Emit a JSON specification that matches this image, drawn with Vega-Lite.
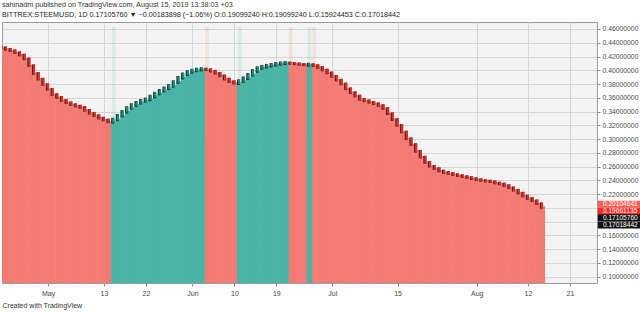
{
"$schema":"https://vega.github.io/schema/vega-lite/v6.json",
"width":595,"height":261,
"autosize":{"type":"none"},
"padding":{"left":2,"top":22,"right":43,"bottom":29},
"background":"#ffffff",
"config":{"view":{"fill":"#f3f3f3","stroke":"#9a9a9a","strokeWidth":1},"font":"Liberation Sans"},
"title":{"text":"sahinadm published on TradingView.com, August 15, 2019 13:38:03 +03","subtitle":"BITTREX:STEEMUSD, 1D  0.17105760 ▼ −0.00183898 (−1.06%)  O:0.19099240  H:0.19099240  L:0.15924453  C:0.17018442","anchor":"start","frame":"group","fontSize":7.2,"subtitleFontSize":7.2,"fontWeight":"normal","color":"#333333","subtitleColor":"#222222","offset":4,"subtitlePadding":2.5,"font":"Liberation Sans","subtitleFont":"Liberation Sans"},
"datasets":{
"p":[
{"d":"2019/04/21","o":0.4345,"c":0.4329,"s":"d"},
{"d":"2019/04/22","o":0.4329,"c":0.4308,"s":"d"},
{"d":"2019/04/23","o":0.4308,"c":0.4287,"s":"d"},
{"d":"2019/04/24","o":0.4287,"c":0.4259,"s":"d"},
{"d":"2019/04/25","o":0.4259,"c":0.4224,"s":"d"},
{"d":"2019/04/26","o":0.4224,"c":0.4168,"s":"d"},
{"d":"2019/04/27","o":0.4168,"c":0.4070,"s":"d"},
{"d":"2019/04/28","o":0.4070,"c":0.3958,"s":"d"},
{"d":"2019/04/29","o":0.3958,"c":0.3874,"s":"d"},
{"d":"2019/04/30","o":0.3874,"c":0.3797,"s":"d"},
{"d":"2019/05/01","o":0.3797,"c":0.3727,"s":"d"},
{"d":"2019/05/02","o":0.3727,"c":0.3650,"s":"d"},
{"d":"2019/05/03","o":0.3650,"c":0.3608,"s":"d"},
{"d":"2019/05/04","o":0.3608,"c":0.3566,"s":"d"},
{"d":"2019/05/05","o":0.3566,"c":0.3531,"s":"d"},
{"d":"2019/05/06","o":0.3531,"c":0.3503,"s":"d"},
{"d":"2019/05/07","o":0.3503,"c":0.3483,"s":"d"},
{"d":"2019/05/08","o":0.3483,"c":0.3462,"s":"d"},
{"d":"2019/05/09","o":0.3462,"c":0.3420,"s":"d"},
{"d":"2019/05/10","o":0.3420,"c":0.3378,"s":"d"},
{"d":"2019/05/11","o":0.3378,"c":0.3343,"s":"d"},
{"d":"2019/05/12","o":0.3343,"c":0.3308,"s":"d"},
{"d":"2019/05/13","o":0.3308,"c":0.3280,"s":"d"},
{"d":"2019/05/14","o":0.3280,"c":0.3252,"s":"d"},
{"d":"2019/05/15","o":0.3252,"c":0.3287,"s":"u","g":"b"},
{"d":"2019/05/16","o":0.3287,"c":0.3343,"s":"u"},
{"d":"2019/05/17","o":0.3343,"c":0.3399,"s":"u"},
{"d":"2019/05/18","o":0.3399,"c":0.3455,"s":"u"},
{"d":"2019/05/19","o":0.3455,"c":0.3497,"s":"u"},
{"d":"2019/05/20","o":0.3497,"c":0.3531,"s":"u"},
{"d":"2019/05/21","o":0.3531,"c":0.3559,"s":"u"},
{"d":"2019/05/22","o":0.3559,"c":0.3580,"s":"u"},
{"d":"2019/05/23","o":0.3580,"c":0.3622,"s":"u"},
{"d":"2019/05/24","o":0.3622,"c":0.3664,"s":"u"},
{"d":"2019/05/25","o":0.3664,"c":0.3706,"s":"u"},
{"d":"2019/05/26","o":0.3706,"c":0.3741,"s":"u"},
{"d":"2019/05/27","o":0.3741,"c":0.3776,"s":"u"},
{"d":"2019/05/28","o":0.3776,"c":0.3832,"s":"u"},
{"d":"2019/05/29","o":0.3832,"c":0.3895,"s":"u"},
{"d":"2019/05/30","o":0.3895,"c":0.3944,"s":"u"},
{"d":"2019/05/31","o":0.3944,"c":0.3979,"s":"u"},
{"d":"2019/06/01","o":0.3979,"c":0.4000,"s":"u"},
{"d":"2019/06/02","o":0.4000,"c":0.4014,"s":"u"},
{"d":"2019/06/03","o":0.4014,"c":0.4021,"s":"u"},
{"d":"2019/06/04","o":0.4021,"c":0.4010,"s":"d","g":"s"},
{"d":"2019/06/05","o":0.4010,"c":0.3990,"s":"d"},
{"d":"2019/06/06","o":0.3990,"c":0.3960,"s":"d"},
{"d":"2019/06/07","o":0.3960,"c":0.3922,"s":"d"},
{"d":"2019/06/08","o":0.3922,"c":0.3875,"s":"d"},
{"d":"2019/06/09","o":0.3875,"c":0.3838,"s":"d"},
{"d":"2019/06/10","o":0.3838,"c":0.3815,"s":"d"},
{"d":"2019/06/11","o":0.3815,"c":0.3846,"s":"u","g":"b"},
{"d":"2019/06/12","o":0.3846,"c":0.3888,"s":"u"},
{"d":"2019/06/13","o":0.3888,"c":0.3937,"s":"u"},
{"d":"2019/06/14","o":0.3937,"c":0.3993,"s":"u"},
{"d":"2019/06/15","o":0.3993,"c":0.4035,"s":"u"},
{"d":"2019/06/16","o":0.4035,"c":0.4056,"s":"u"},
{"d":"2019/06/17","o":0.4056,"c":0.4070,"s":"u"},
{"d":"2019/06/18","o":0.4070,"c":0.4084,"s":"u"},
{"d":"2019/06/19","o":0.4084,"c":0.4098,"s":"u"},
{"d":"2019/06/20","o":0.4098,"c":0.4105,"s":"u"},
{"d":"2019/06/21","o":0.4105,"c":0.4110,"s":"u"},
{"d":"2019/06/22","o":0.4110,"c":0.4103,"s":"d","g":"s"},
{"d":"2019/06/23","o":0.4103,"c":0.4096,"s":"d"},
{"d":"2019/06/24","o":0.4096,"c":0.4089,"s":"d"},
{"d":"2019/06/25","o":0.4089,"c":0.4082,"s":"d"},
{"d":"2019/06/26","o":0.4082,"c":0.4086,"s":"u","g":"b"},
{"d":"2019/06/27","o":0.4086,"c":0.4072,"s":"d","g":"s"},
{"d":"2019/06/28","o":0.4072,"c":0.4045,"s":"d"},
{"d":"2019/06/29","o":0.4045,"c":0.4007,"s":"d"},
{"d":"2019/06/30","o":0.4007,"c":0.3965,"s":"d"},
{"d":"2019/07/01","o":0.3965,"c":0.3916,"s":"d"},
{"d":"2019/07/02","o":0.3916,"c":0.3860,"s":"d"},
{"d":"2019/07/03","o":0.3860,"c":0.3804,"s":"d"},
{"d":"2019/07/04","o":0.3804,"c":0.3734,"s":"d"},
{"d":"2019/07/05","o":0.3734,"c":0.3678,"s":"d"},
{"d":"2019/07/06","o":0.3678,"c":0.3629,"s":"d"},
{"d":"2019/07/07","o":0.3629,"c":0.3580,"s":"d"},
{"d":"2019/07/08","o":0.3580,"c":0.3559,"s":"d"},
{"d":"2019/07/09","o":0.3559,"c":0.3538,"s":"d"},
{"d":"2019/07/10","o":0.3538,"c":0.3517,"s":"d"},
{"d":"2019/07/11","o":0.3517,"c":0.3490,"s":"d"},
{"d":"2019/07/12","o":0.3490,"c":0.3448,"s":"d"},
{"d":"2019/07/13","o":0.3448,"c":0.3371,"s":"d"},
{"d":"2019/07/14","o":0.3371,"c":0.3287,"s":"d"},
{"d":"2019/07/15","o":0.3287,"c":0.3203,"s":"d"},
{"d":"2019/07/16","o":0.3203,"c":0.3105,"s":"d"},
{"d":"2019/07/17","o":0.3105,"c":0.3007,"s":"d"},
{"d":"2019/07/18","o":0.3007,"c":0.2923,"s":"d"},
{"d":"2019/07/19","o":0.2923,"c":0.2825,"s":"d"},
{"d":"2019/07/20","o":0.2825,"c":0.2741,"s":"d"},
{"d":"2019/07/21","o":0.2741,"c":0.2664,"s":"d"},
{"d":"2019/07/22","o":0.2664,"c":0.2608,"s":"d"},
{"d":"2019/07/23","o":0.2608,"c":0.2573,"s":"d"},
{"d":"2019/07/24","o":0.2573,"c":0.2538,"s":"d"},
{"d":"2019/07/25","o":0.2538,"c":0.2517,"s":"d"},
{"d":"2019/07/26","o":0.2517,"c":0.2503,"s":"d"},
{"d":"2019/07/27","o":0.2503,"c":0.2485,"s":"d"},
{"d":"2019/07/28","o":0.2485,"c":0.2471,"s":"d"},
{"d":"2019/07/29","o":0.2471,"c":0.2457,"s":"d"},
{"d":"2019/07/30","o":0.2457,"c":0.2443,"s":"d"},
{"d":"2019/07/31","o":0.2443,"c":0.2427,"s":"d"},
{"d":"2019/08/01","o":0.2427,"c":0.2413,"s":"d"},
{"d":"2019/08/02","o":0.2413,"c":0.2401,"s":"d"},
{"d":"2019/08/03","o":0.2401,"c":0.2392,"s":"d"},
{"d":"2019/08/04","o":0.2392,"c":0.2382,"s":"d"},
{"d":"2019/08/05","o":0.2382,"c":0.2364,"s":"d"},
{"d":"2019/08/06","o":0.2364,"c":0.2350,"s":"d"},
{"d":"2019/08/07","o":0.2350,"c":0.2326,"s":"d"},
{"d":"2019/08/08","o":0.2326,"c":0.2294,"s":"d"},
{"d":"2019/08/09","o":0.2294,"c":0.2259,"s":"d"},
{"d":"2019/08/10","o":0.2259,"c":0.2217,"s":"d"},
{"d":"2019/08/11","o":0.2217,"c":0.2175,"s":"d"},
{"d":"2019/08/12","o":0.2175,"c":0.2140,"s":"d"},
{"d":"2019/08/13","o":0.2140,"c":0.2105,"s":"d"},
{"d":"2019/08/14","o":0.2105,"c":0.2062,"s":"d"},
{"d":"2019/08/15","o":0.2062,"c":0.2010,"s":"d"}
],
"lbl":[
{"v":0.20104641,"k":"a"},
{"v":0.19661135,"k":"b"},
{"v":0.17105760,"k":"c"},
{"v":0.17018442,"k":"d"}
]
},
"data":{"name":"p"},
"layer":[
{"transform":[{"filter":"datum.s=='d'"}],
 "mark":{"type":"bar","color":"#f47b74","stroke":"#f47b74","strokeWidth":1.6,"clip":true},
 "encoding":{
  "x":{"field":"d","type":"temporal","timeUnit":"yearmonthdate",
   "scale":{"domain":[{"year":2019,"month":4,"date":21,"hours":15},{"year":2019,"month":8,"date":27,"hours":7,"minutes":20}]},
   "title":"Created with TradingView",
   "axis":{"values":[{"year":2019,"month":5,"date":1,"hours":12},{"year":2019,"month":5,"date":13,"hours":12},{"year":2019,"month":5,"date":22,"hours":12},{"year":2019,"month":6,"date":1,"hours":12},{"year":2019,"month":6,"date":10,"hours":12},{"year":2019,"month":6,"date":19,"hours":12},{"year":2019,"month":7,"date":1,"hours":12},{"year":2019,"month":7,"date":15,"hours":12},{"year":2019,"month":8,"date":1,"hours":12},{"year":2019,"month":8,"date":12,"hours":12},{"year":2019,"month":8,"date":21,"hours":12}],
    "labelExpr":"date(datum.value) == 1 ? timeFormat(datum.value, '%b') : timeFormat(datum.value, '%-d')",
    "labelFontSize":7,"labelColor":"#444444","labelFont":"Liberation Sans","tickSize":3,"tickColor":"#888888","domain":false,
    "grid":true,"gridColor":"#d6d6d6","labelPadding":3,"labelFlush":false,"labelOverlap":false,
    "titleAnchor":"start","titleAlign":"left","titleFontSize":7,"titleFontWeight":"normal","titleColor":"#333333","titleFont":"Liberation Sans","titlePadding":5}},
  "y":{"field":"c","type":"quantitative","title":null,
   "scale":{"domain":[0.0979,0.4629],"nice":false,"zero":false},
   "axis":{"orient":"right","values":[0.10,0.12,0.14,0.16,0.18,0.20,0.22,0.24,0.26,0.28,0.30,0.32,0.34,0.36,0.38,0.40,0.42,0.44,0.46],"tickCount":19,
    "format":".8f","labelExpr":"abs(datum.value - 0.2) < 0.001 ? '' : format(datum.value, '.8f')","labelFontSize":6.8,"labelColor":"#4a4a4a","labelFont":"Liberation Sans","tickSize":3,"tickColor":"#888888","domain":false,
    "grid":true,"gridColor":"#d6d6d6","labelPadding":2,"labelOverlap":false,"labelBound":false,"labelFlush":false}},
  "y2":{"datum":0}}},
{"transform":[{"filter":"datum.s=='u'"}],
 "mark":{"type":"bar","color":"#4ab4a5","stroke":"#4ab4a5","strokeWidth":1.6,"clip":true},
 "encoding":{
  "x":{"field":"d","type":"temporal","timeUnit":"yearmonthdate"},
  "y":{"field":"o","type":"quantitative","title":null},
  "y2":{"datum":0}}},
{"transform":[{"filter":"datum.g=='b'"}],
 "mark":{"type":"bar","color":"#5cb88a","opacity":0.14,"clip":true},
 "encoding":{
  "x":{"field":"d","type":"temporal","timeUnit":"yearmonthdate"},
  "y":{"datum":0.4629,"type":"quantitative","title":null},
  "y2":{"datum":0.3}}},
{"transform":[{"filter":"datum.g=='s'"}],
 "mark":{"type":"bar","color":"#ee8a8a","opacity":0.16,"clip":true},
 "encoding":{
  "x":{"field":"d","type":"temporal","timeUnit":"yearmonthdate"},
  "y":{"datum":0.4629,"type":"quantitative","title":null},
  "y2":{"datum":0.3}}},
{"mark":{"type":"rule","color":"#2a2a2a","strokeWidth":3,"strokeCap":"square","xOffset":-0.6,"yOffset":0.5,"clip":true},
 "encoding":{
  "x":{"field":"d","type":"temporal","timeUnit":"yearmonthdate","bandPosition":0.5},
  "y":{"field":"o","type":"quantitative","title":null},
  "y2":{"field":"c"}}},
{"transform":[{"filter":"datum.s=='d'"}],
 "mark":{"type":"rule","color":"#ea2a22","strokeWidth":2.2,"strokeCap":"square","clip":true},
 "encoding":{
  "x":{"field":"d","type":"temporal","timeUnit":"yearmonthdate","bandPosition":0.5},
  "y":{"field":"o","type":"quantitative","title":null},
  "y2":{"field":"c"}}},
{"transform":[{"filter":"datum.s=='u'"}],
 "mark":{"type":"rule","color":"#16907f","strokeWidth":2.2,"strokeCap":"square","clip":true},
 "encoding":{
  "x":{"field":"d","type":"temporal","timeUnit":"yearmonthdate","bandPosition":0.5},
  "y":{"field":"o","type":"quantitative","title":null},
  "y2":{"field":"c"}}},
{"data":{"name":"lbl"},"transform":[{"filter":"datum.k=='a'"}],
 "mark":{"type":"bar","color":"#f2625b","clip":false,"yOffset":-2.8},
 "encoding":{
  "x":{"datum":{"year":2019,"month":8,"date":27,"hours":12},"type":"temporal"},
  "x2":{"datum":{"year":2019,"month":9,"date":5,"hours":14}},
  "y":{"field":"v","type":"quantitative","title":null},
  "size":{"value":7}}},
{"data":{"name":"lbl"},"transform":[{"filter":"datum.k=='b'"}],
 "mark":{"type":"bar","color":"#fa2a22","clip":false,"yOffset":1.1},
 "encoding":{
  "x":{"datum":{"year":2019,"month":8,"date":27,"hours":12},"type":"temporal"},
  "x2":{"datum":{"year":2019,"month":9,"date":5,"hours":14}},
  "y":{"field":"v","type":"quantitative","title":null},
  "size":{"value":7}}},
{"data":{"name":"lbl"},"transform":[{"filter":"datum.k=='c'"}],
 "mark":{"type":"bar","color":"#111111","clip":false,"yOffset":-9.9},
 "encoding":{
  "x":{"datum":{"year":2019,"month":8,"date":27,"hours":12},"type":"temporal"},
  "x2":{"datum":{"year":2019,"month":9,"date":5,"hours":14}},
  "y":{"field":"v","type":"quantitative","title":null},
  "size":{"value":7}}},
{"data":{"name":"lbl"},"transform":[{"filter":"datum.k=='d'"}],
 "mark":{"type":"bar","color":"#111111","clip":false,"yOffset":-3.3},
 "encoding":{
  "x":{"datum":{"year":2019,"month":8,"date":27,"hours":12},"type":"temporal"},
  "x2":{"datum":{"year":2019,"month":9,"date":5,"hours":14}},
  "y":{"field":"v","type":"quantitative","title":null},
  "size":{"value":7}}},
{"data":{"name":"lbl"},"transform":[{"filter":"datum.k=='a'"}],
 "mark":{"type":"text","color":"#ffffff","fontSize":6.6,"font":"Liberation Sans","align":"left","baseline":"middle","clip":false,"dy":-2.8},
 "encoding":{
  "x":{"datum":{"year":2019,"month":8,"date":28,"hours":14},"type":"temporal"},
  "y":{"field":"v","type":"quantitative","title":null},
  "text":{"field":"v","format":".8f"}}},
{"data":{"name":"lbl"},"transform":[{"filter":"datum.k=='b'"}],
 "mark":{"type":"text","color":"#ffffff","fontSize":6.6,"font":"Liberation Sans","align":"left","baseline":"middle","clip":false,"dy":1.1},
 "encoding":{
  "x":{"datum":{"year":2019,"month":8,"date":28,"hours":14},"type":"temporal"},
  "y":{"field":"v","type":"quantitative","title":null},
  "text":{"field":"v","format":".8f"}}},
{"data":{"name":"lbl"},"transform":[{"filter":"datum.k=='c'"}],
 "mark":{"type":"text","color":"#ffffff","fontSize":6.6,"font":"Liberation Sans","align":"left","baseline":"middle","clip":false,"dy":-9.9},
 "encoding":{
  "x":{"datum":{"year":2019,"month":8,"date":28,"hours":14},"type":"temporal"},
  "y":{"field":"v","type":"quantitative","title":null},
  "text":{"field":"v","format":".8f"}}},
{"data":{"name":"lbl"},"transform":[{"filter":"datum.k=='d'"}],
 "mark":{"type":"text","color":"#ffffff","fontSize":6.6,"font":"Liberation Sans","align":"left","baseline":"middle","clip":false,"dy":-3.3},
 "encoding":{
  "x":{"datum":{"year":2019,"month":8,"date":28,"hours":14},"type":"temporal"},
  "y":{"field":"v","type":"quantitative","title":null},
  "text":{"field":"v","format":".8f"}}}
]
}
